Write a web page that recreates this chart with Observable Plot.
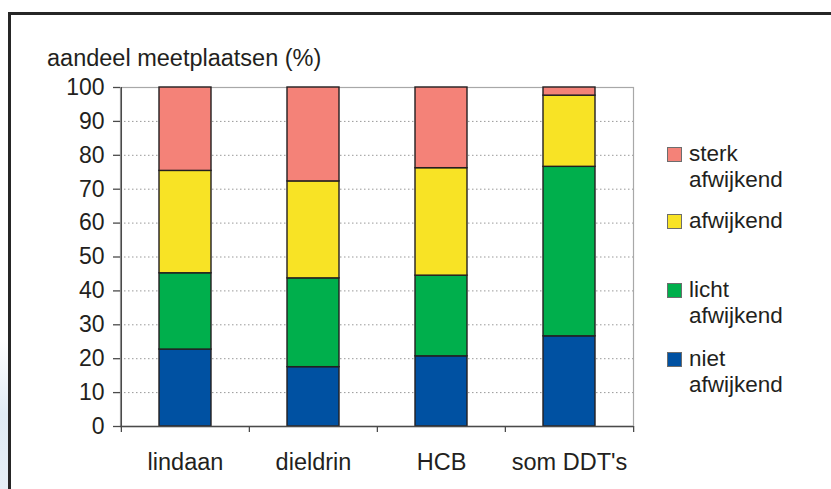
<!DOCTYPE html>
<html>
<head>
<meta charset="utf-8">
<script src="https://cdn.jsdelivr.net/npm/d3@7"></script>
<script src="https://cdn.jsdelivr.net/npm/@observablehq/plot@0.6"></script>
<style>
  html, body { margin: 0; padding: 0; background: #fff; }
  #chart {
    position: relative; width: 831px; height: 489px; overflow: hidden;
    font-family: "Liberation Sans", Arial, sans-serif; color: #231f20;
  }
  #chart svg { position: absolute; left: 0; top: 0; }
  .kader {
    position: absolute; left: 8px; top: 12px; width: 900px; height: 600px;
    border-top: 3px solid #262626; border-left: 3px solid #262626;
    box-sizing: border-box; pointer-events: none;
  }
  .waas {
    position: absolute; left: 0; top: 340px; width: 8px; height: 149px;
    background: linear-gradient(to bottom, rgba(220,234,244,0), #e0ebf4 50%, #e6eff6);
  }
  .titel {
    position: absolute; left: 47px; top: 45px; font-size: 23.5px; line-height: 26px;
    white-space: nowrap;
  }
  .legenda { position: absolute; left: 667px; top: 0; }
  .item { position: absolute; left: 0; width: 160px; font-size: 22.5px; }
  .item .vak {
    position: absolute; left: 0; top: 4px; width: 13px; height: 13px;
    border: 1px solid #6d6d6d;
  }
  .item .regel {
    position: absolute; left: 22px; height: 22px; line-height: 22px;
    white-space: nowrap;
  }
</style>
</head>
<body>
<div id="chart"></div>
<script>
// Stoffen (categorieën op de x-as)
const stoffen = ["lindaan", "dieldrin", "HCB", "som DDT's"];

// Klassen van onder naar boven in de staaf
const klassen = ["niet afwijkend", "licht afwijkend", "afwijkend", "sterk afwijkend"];
const kleuren = ["#0051a2", "#00af4c", "#f8e325", "#f48278"];

// Aandeel meetplaatsen (%) per klasse, per stof
const niet   = [22.7, 17.5, 20.7, 26.6];
const licht  = [22.5, 26.2, 23.8, 50.0];
const afw    = [30.2, 28.6, 31.7, 21.0];
const sterk  = [24.6, 27.7, 23.8, 2.4];

// Labels van de y-as
const yTicks = [0, 10, 20, 30, 40, 50, 60, 70, 80, 90, 100];

// Legenda-teksten, van boven naar beneden
const legendaTeksten = [
  ["sterk", "afwijkend"],
  ["afwijkend"],
  ["licht", "afwijkend"],
  ["niet", "afwijkend"]
];

const reeksen = [niet, licht, afw, sterk];
const rijen = [];
stoffen.forEach((stof, i) => {
  klassen.forEach((klasse, k) => {
    rijen.push({stof, klasse, waarde: reeksen[k][i]});
  });
});

const W = 831, H = 489;
const mL = 120, mR = 198, mT = 87, mB = 63;
const stap = (W - mL - mR) / stoffen.length;
const font = '"Liberation Sans", Arial, sans-serif';

const plot = Plot.plot({
  width: W,
  height: H,
  marginLeft: mL,
  marginRight: mR,
  marginTop: mT,
  marginBottom: mB,
  style: {fontFamily: font, fontSize: "23px", color: "#231f20", background: "transparent", overflow: "visible"},
  x: {domain: stoffen, paddingInner: 0.594, paddingOuter: 0.297, label: null},
  y: {domain: [0, 100], label: null},
  color: {domain: klassen, range: kleuren},
  marks: [
    Plot.frame({stroke: "#a8a8a8", strokeWidth: 1.2}),
    Plot.gridY(yTicks.slice(1, -1), {stroke: "#999", strokeOpacity: 1, strokeDasharray: "1.5,2.5"}),
    Plot.barY(rijen, {
      x: "stof", y: "waarde", fill: "klasse",
      stroke: "#231f20", strokeWidth: 1.4
    }),
    // verticale as
    Plot.ruleX([stoffen[0]], {dx: -stap / 2, stroke: "#4a4a4a", strokeWidth: 1.3}),
    // horizontale as
    Plot.ruleY([0], {stroke: "#4a4a4a", strokeWidth: 1.5}),
    Plot.axisY(yTicks, {
      tickSize: 7, tickPadding: 9, stroke: "#4a4a4a", strokeWidth: 1.3,
      tickFormat: d => String(d), fontSize: 23, label: null
    }),
    // streepjes tussen de categorieën
    Plot.axisX(stoffen, {tickSize: 6, dx: -stap / 2, text: null, stroke: "#4a4a4a", strokeWidth: 1.3, label: null}),
    Plot.axisX([stoffen[stoffen.length - 1]], {tickSize: 6, dx: stap / 2, text: null, stroke: "#4a4a4a", strokeWidth: 1.3, label: null}),
    Plot.axisX(stoffen, {tickSize: 0, tickPadding: 27, fontSize: 23.5, label: null})
  ]
});

const chart = document.getElementById("chart");
const waas = document.createElement("div");
waas.className = "waas";
chart.appendChild(waas);
chart.appendChild(plot);

const kader = document.createElement("div");
kader.className = "kader";
chart.appendChild(kader);

const titel = document.createElement("div");
titel.className = "titel";
titel.textContent = "aandeel meetplaatsen (%)";
chart.appendChild(titel);

// Legenda rechts van de grafiek
const legenda = document.createElement("div");
legenda.className = "legenda";
const legendaTop = [143, 210, 279, 348];
const regelAfstand = 25.5;
const legendaKleuren = kleuren.slice().reverse();
legendaTeksten.forEach((regels, i) => {
  const item = document.createElement("div");
  item.className = "item";
  item.style.top = legendaTop[i] + "px";
  const vak = document.createElement("div");
  vak.className = "vak";
  vak.style.background = legendaKleuren[i];
  item.appendChild(vak);
  regels.forEach((r, j) => {
    const regel = document.createElement("div");
    regel.className = "regel";
    regel.style.top = (j * regelAfstand) + "px";
    regel.textContent = r;
    item.appendChild(regel);
  });
  legenda.appendChild(item);
});
chart.appendChild(legenda);
</script>
</body>
</html>
